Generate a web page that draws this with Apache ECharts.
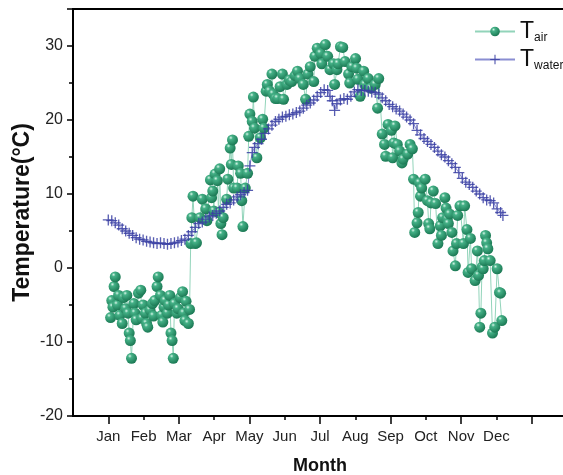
<!DOCTYPE html>
<html>
<head>
<meta charset="utf-8">
<script src="https://cdn.jsdelivr.net/npm/echarts@6/dist/echarts.min.js"></script>
<style>
  html, body { margin: 0; padding: 0; background: #fff; }
  #chart { width: 563px; height: 475px; }
</style>
</head>
<body>
<div id="chart"></div>
<script>
// month labels, one tick every 30.4 days, day 0 = Jan tick
var months = ['Jan', 'Feb', 'Mar', 'Apr', 'May', 'Jun', 'Jul', 'Aug', 'Sep', 'Oct', 'Nov', 'Dec', ''];
var monthLen = 30.4;

// air temperature, day of year / value
var airDay = [2, 3, 4, 5, 6, 8, 9, 10, 12, 13, 15, 16, 17, 18, 19, 20, 22, 23, 24, 26, 28, 29, 30, 32, 33, 34, 36, 38, 39, 40,
  42, 43, 45, 46, 47, 48, 49, 51, 52, 53, 54, 55, 56, 57, 59, 60, 62, 64, 65, 66, 67, 69, 70,
  71, 72, 73, 75, 76, 79, 81, 84, 85, 88, 89, 90, 91, 92, 94, 95, 96, 97, 98, 99, 102, 103, 105, 106, 107, 108,
  111, 112, 114, 115, 116, 118, 120, 121, 122, 124, 125, 126, 128, 131, 133, 134, 136, 137, 139, 141, 142, 144, 146,
  148, 150, 151, 154, 156, 158, 161, 163, 165, 168, 170, 172, 174, 177, 178, 180, 183, 184, 187, 189, 191, 194, 195,
  197, 198, 200, 202, 204, 207, 208, 210, 213, 214, 215, 217, 220, 221, 224, 226, 230, 232, 233, 236, 238, 239, 241,
  244, 245, 246, 247, 249, 251, 253, 254, 258, 260, 262, 263, 264, 266, 267, 268, 269, 270, 273, 275, 276, 277, 278,
  280, 282, 284, 286, 287, 288, 290, 291, 292, 293, 294, 296, 297, 299, 300, 301, 303, 306, 307, 309, 310, 312, 313,
  316, 318, 319, 320, 321, 322, 323, 324, 325, 326, 327, 329, 331, 333, 335, 337, 338, 339];
var airT = [-6.7, -4.4, -5.3, -2.5, -1.2, -5.0, -3.7, -6.4, -7.5, -4.0, -5.5, -3.7, -6.1, -8.8, -9.8, -12.2, -4.8, -6.1, -7.0, -3.4, -3.0, -6.8, -5.0, -6.1, -7.5, -8.0, -5.7, -4.8, -6.5, -4.4,
  -2.5, -1.2, -3.7, -6.4, -7.3, -5.3, -4.4, -6.1, -5.0, -3.7, -8.8, -9.8, -12.2, -4.8, -6.1, -5.5, -4.0, -3.2, -6.1, -7.1, -4.5, -7.5, -5.6,
  3.3, 6.8, 9.7, 3.3, 3.4, 6.8, 9.3, 8.0, 6.4, 11.9, 9.5, 10.4, 7.7, 12.7, 11.8, 7.5, 13.4, 6.0, 4.5, 6.8, 9.3, 12.0, 16.2, 14.0, 17.3, 10.8,
  10.8, 13.8, 12.8, 9.1, 5.6, 10.8, 12.8, 17.8, 20.8, 19.8, 23.1, 18.9, 14.9, 17.6, 20.1, 18.9, 23.9, 24.8, 23.9, 26.2, 23.5, 22.9, 22.9,
  24.5, 26.2, 22.8, 24.8, 25.4, 25.2, 26.0, 26.6, 25.6, 24.8, 22.8, 26.2, 27.2, 25.2, 28.6, 29.7, 29.0, 27.6, 30.2, 28.6, 26.8, 27.6, 24.8,
  26.8, 27.6, 29.9, 29.8, 27.9, 26.2, 25.0, 27.2, 28.3, 27.0, 25.5, 23.2, 26.6, 24.8, 25.6, 24.3, 24.8, 21.6, 25.6, 18.1, 16.7, 15.1, 19.4,
  18.6, 14.9, 16.9, 19.2, 16.7, 15.8, 14.2, 14.7, 15.4, 16.7, 16.1, 12.0, 4.8, 6.1, 7.5, 11.5, 9.7, 10.8, 12.0, 9.1, 6.0, 5.3, 8.8,
  10.4, 8.7, 3.3, 5.7, 4.4, 6.8, 9.5, 8.1, 6.6, 6.0, 7.3, 4.8, 2.3, 0.3, 3.3, 7.1, 8.4, 3.3, 8.4, 5.2, -0.6, 4.0, -0.1,
  -1.7, 2.3, -1.0, -8.0, -6.1, 0.1, -0.1, 1.0, 4.4, 3.4, 2.6, 1.0, -8.8, -8.0, -0.1, -3.3, -3.4, -7.1];

// water temperature
var waterDay = [0, 3, 6, 9, 12, 15, 18, 21, 24, 27, 30, 33, 36, 39, 42, 45, 48, 51, 54, 57, 60, 63, 66, 69, 72, 75, 78, 81, 84, 87,
  90, 93, 96, 99, 102, 105, 108, 111, 114, 117, 120, 122, 124, 126, 129, 132, 135, 138, 141, 144, 147, 150, 153, 156, 159,
  162, 165, 168, 171, 174, 177, 180, 183, 186, 189, 191, 193, 195, 197, 200, 203, 206, 209, 212, 215, 218, 221, 224, 227,
  230, 233, 236, 239, 242, 245, 248, 251, 254, 257, 260, 263, 266, 269, 272, 275, 278, 281, 284, 287, 290, 293, 296, 299,
  302, 305, 308, 311, 314, 317, 320, 323, 326, 329, 332, 335, 338, 340];
var waterT = [6.5, 6.4, 6.1, 5.8, 5.3, 5.0, 4.7, 4.4, 4.1, 3.9, 3.8, 3.6, 3.5, 3.4, 3.3, 3.4, 3.3, 3.2, 3.3, 3.4, 3.5, 3.7, 3.9, 4.4, 4.9, 5.5, 6.0, 6.2, 6.6, 6.9,
  7.1, 7.4, 7.7, 8.2, 8.6, 8.8, 9.2, 9.6, 9.9, 10.2, 10.5, 13.8, 15.6, 16.3, 16.8, 17.4, 18.2, 18.8, 19.3, 19.8, 20.1, 20.4, 20.5, 20.7, 20.8,
  21.0, 21.2, 21.6, 22.0, 22.3, 22.7, 23.2, 23.7, 24.1, 24.0, 23.2, 22.6, 21.3, 22.2, 22.7, 22.9, 22.8, 23.2, 23.8, 24.1, 24.0, 24.0, 23.9, 23.8,
  23.7, 23.5, 23.0, 22.6, 22.1, 21.8, 21.5, 21.2, 20.8, 20.4, 20.0, 19.5, 18.6, 18.0, 17.5, 17.1, 16.7, 16.3, 15.8, 15.3, 15.0, 14.5, 14.1, 13.6,
  12.9, 12.1, 11.6, 11.3, 10.9, 10.4, 10.0, 9.5, 9.2, 9.1, 8.8, 8.0, 7.5, 7.1];

var airData = airDay.map(function (d, i) { return [d, airT[i]]; });
var waterData = waterDay.map(function (d, i) { return [d, waterT[i]]; });

var longTicks = [], shortTicks = [], labelTicks = [];
months.forEach(function (m, i) {
  labelTicks.push(i * monthLen);
  if (i % 2 === 0) longTicks.push(i * monthLen); else shortTicks.push(i * monthLen);
});

var font = "'Liberation Sans', Arial, sans-serif";
var chart = echarts.init(document.getElementById('chart'));
var option = {
  animation: false,
  grid: {
    left: 73, top: 9, right: -4, bottom: 59,
    outerBoundsMode: 'none',
    show: true, borderColor: '#000', borderWidth: 2
  },
  legend: {
    orient: 'vertical',
    left: 474, top: 19, padding: 0,
    itemWidth: 40, itemHeight: 12, itemGap: 3,
    data: ['air', 'water'],
    formatter: function (name) { return '{t|T}{s|' + name + '}'; },
    textStyle: {
      rich: {
        t: { fontFamily: font, fontSize: 23, lineHeight: 23, color: '#111', verticalAlign: 'top' },
        s: { fontFamily: font, fontSize: 12, lineHeight: 12, color: '#111', padding: [13, 0, 0, 0] }
      }
    }
  },
  xAxis: [{
    type: 'value',
    min: -monthLen, max: 13 * monthLen,
    name: 'Month', nameLocation: 'middle', nameGap: 41,
    nameTextStyle: { fontFamily: font, fontSize: 18, fontWeight: 'bold', color: '#111' },
    axisLine: { onZero: false, lineStyle: { color: '#000', width: 2 } },
    axisTick: { length: 8, lineStyle: { width: 1.5, color: '#000' }, customValues: longTicks },
    axisLabel: {
      margin: 13, fontFamily: font, fontSize: 15, color: '#222',
      customValues: labelTicks,
      formatter: function (v) { return months[Math.round(v / monthLen)] || ''; }
    },
    splitLine: { show: false }
  }, {
    type: 'value', position: 'bottom',
    min: -monthLen, max: 13 * monthLen,
    axisLine: { show: false, onZero: false },
    axisTick: { length: 4, lineStyle: { width: 1.5, color: '#000' }, customValues: shortTicks },
    axisLabel: { show: false },
    splitLine: { show: false }
  }],
  yAxis: {
    type: 'value',
    min: -20, max: 35, interval: 10,
    name: 'Temperature(°C)', nameLocation: 'middle', nameGap: 39, nameRotate: 90,
    nameMoveOverlap: false,
    nameTextStyle: { fontFamily: font, fontSize: 23, fontWeight: 'bold', color: '#111' },
    axisLine: { show: true, onZero: false, lineStyle: { color: '#000', width: 2 } },
    axisTick: { show: true, length: 6, lineStyle: { width: 1.5, color: '#000' } },
    minorTick: { show: true, splitNumber: 2, length: 4, lineStyle: { width: 1.5, color: '#000' } },
    axisLabel: { margin: 10, fontFamily: font, fontSize: 16, color: '#222', showMaxLabel: false },
    splitLine: { show: false }
  },
  series: [{
    name: 'air',
    type: 'line',
    data: airData,
    symbol: 'circle',
    symbolSize: 11,
    lineStyle: { color: '#92d4ba', width: 1 },
    itemStyle: {
      color: {
        type: 'radial', x: 0.35, y: 0.3, r: 0.7,
        colorStops: [
          { offset: 0, color: '#d8f5e8' },
          { offset: 0.25, color: '#45b187' },
          { offset: 1, color: '#1c7a55' }
        ]
      }
    }
  }, {
    name: 'water',
    type: 'line',
    data: waterData,
    symbol: 'path://M4.4,0 H5.6 V4.4 H10 V5.6 H5.6 V10 H4.4 V5.6 H0 V4.4 H4.4 Z',
    symbolSize: 11,
    lineStyle: { color: '#8a8ed2', width: 1 },
    itemStyle: { color: '#3a3fa3', opacity: 0.85 }
  }]
};
chart.setOption(option);
</script>
</body>
</html>
